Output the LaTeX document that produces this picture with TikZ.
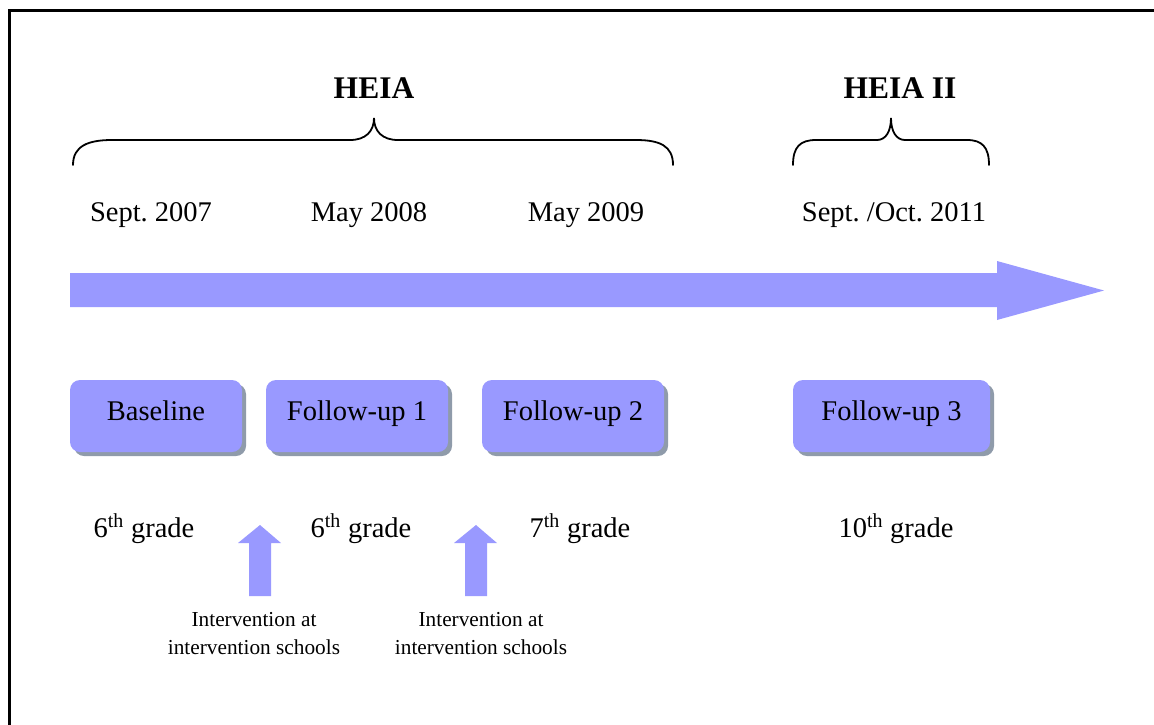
\documentclass[tikz,border=0pt]{standalone}
\usepackage{fontspec}
\setmainfont{Liberation Serif}
\usetikzlibrary{shadows}
\frenchspacing
\definecolor{arrowc}{RGB}{153,153,255}
\definecolor{shadowc}{RGB}{143,155,170}
\tikzset{
  bigtext/.style={font=\fontsize{28.5}{34}\selectfont, inner sep=0pt},
  titletext/.style={font=\fontsize{31.5}{36}\selectfont\bfseries, inner sep=0pt},
  smalltext/.style={font=\fontsize{21.3}{27.5}\selectfont, inner sep=0pt, align=center},
  phasebox/.style={fill=arrowc, rounded corners=10pt, minimum height=72pt, inner sep=0pt,
    text height=20pt, text depth=12pt, font=\fontsize{28.5}{34}\selectfont,
    drop shadow={shadow xshift=4pt, shadow yshift=-4pt, fill=shadowc, opacity=1}},
  bracepath/.style={line width=1.8pt, line cap=round},
  arrowshape/.style={fill=arrowc, draw=none}
}
\begin{document}
\begin{tikzpicture}[x=1pt,y=-1pt]
\useasboundingbox (0,0) rectangle (1154,724);
% frame
\draw[line width=3.2pt] (1160,10.3) -- (9.2,10.3) -- (9.2,730);

% titles
\node[titletext, anchor=base] (heia) at (374,98) {HEIA};
\node[titletext, anchor=base] (heia2) at (900,98) {HEIA II};

% braces
\draw[bracepath] (73,165) .. controls (73,146) and (88,140) .. (112,140)
  -- (350,140) .. controls (366,140) and (374,131) .. (374,118)
  .. controls (374,131) and (382,140) .. (398,140)
  -- (636,140) .. controls (660,140) and (673,146) .. (673,165);
\draw[bracepath] (793,165) .. controls (793,147) and (800,140) .. (816,140)
  -- (877,140) .. controls (886,140) and (891,131) .. (891,118)
  .. controls (891,131) and (896,140) .. (905,140)
  -- (967,140) .. controls (982,140) and (989,147) .. (989,165);

% dates
\node[bigtext, anchor=base] (d1) at (151,221) {Sept. 2007};
\node[bigtext, anchor=base] (d2) at (369,221) {May 2008};
\node[bigtext, anchor=base] (d3) at (586,221) {May 2009};
\node[bigtext, anchor=base] (d4) at (894,221) {Sept. /Oct. 2011};

% main time arrow
\fill[arrowshape] (70,273) -- (997,273) -- (997,261) -- (1104,290.5) -- (997,320) -- (997,307) -- (70,307) -- cycle;

% phase boxes
\node[phasebox, minimum width=172pt] (b0) at (156,416) {Baseline};
\node[phasebox, minimum width=182pt] (b1) at (357,416) {Follow-up 1};
\node[phasebox, minimum width=182pt] (b2) at (573,416) {Follow-up 2};
\node[phasebox, minimum width=197pt] (b3) at (891.5,416) {Follow-up 3};

% grades
\node[bigtext, anchor=base] (g0) at (144,537) {6\textsuperscript{th} grade};
\node[bigtext, anchor=base] (g1) at (361,537) {6\textsuperscript{th} grade};
\node[bigtext, anchor=base] (g2) at (580,537) {7\textsuperscript{th} grade};
\node[bigtext, anchor=base] (g3) at (896,537) {10\textsuperscript{th} grade};

% intervention arrows
\fill[arrowshape] (249,596) -- (249,543) -- (238,543) -- (260,525) -- (281,543) -- (271,543) -- (271,596) -- cycle;
\fill[arrowshape] (465,596) -- (465,543) -- (454,543) -- (476,525) -- (497,543) -- (487,543) -- (487,596) -- cycle;

% intervention labels (base = last line)
\node[smalltext, anchor=base] (i1) at (254,654) {Intervention at\\intervention schools};
\node[smalltext, anchor=base] (i2) at (481,654) {Intervention at\\intervention schools};
\end{tikzpicture}
\end{document}
